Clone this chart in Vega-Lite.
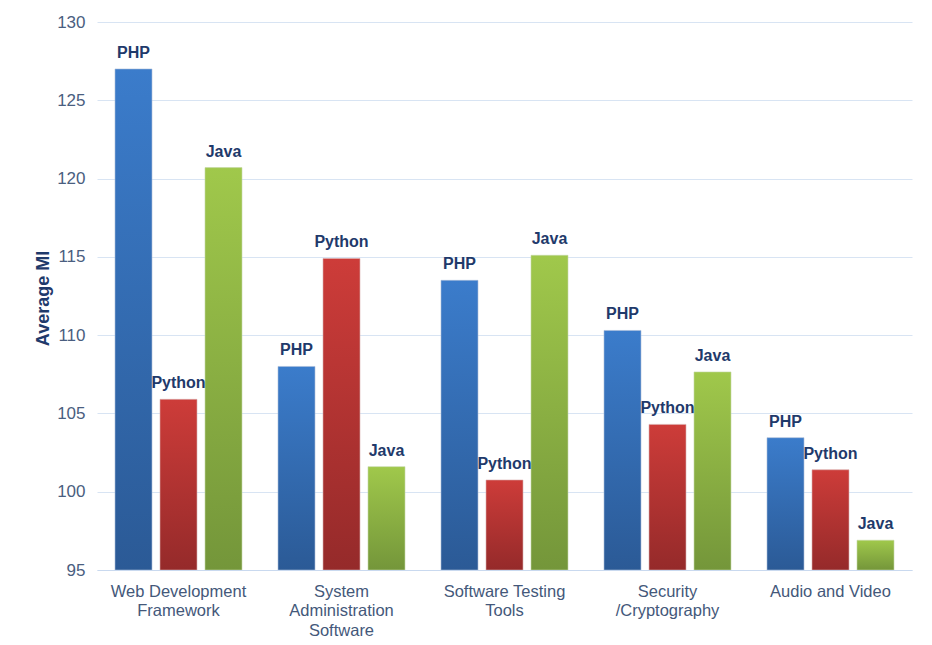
{
  "$schema": "https://vega.github.io/schema/vega-lite/v6.json",
  "width": 815,
  "height": 548,
  "autosize": "none",
  "padding": {"left": 97, "top": 22, "right": 20, "bottom": 75},
  "background": "white",
  "config": {
    "view": {"stroke": null},
    "font": "Liberation Sans"
  },
  "data": {
    "values": [
      {"category": "Web Development|Framework", "lang": "PHP", "mi": 127.0},
      {"category": "Web Development|Framework", "lang": "Python", "mi": 105.9},
      {"category": "Web Development|Framework", "lang": "Java", "mi": 120.7},
      {"category": "System|Administration|Software", "lang": "PHP", "mi": 108.0},
      {"category": "System|Administration|Software", "lang": "Python", "mi": 114.9},
      {"category": "System|Administration|Software", "lang": "Java", "mi": 101.6},
      {"category": "Software Testing|Tools", "lang": "PHP", "mi": 113.5},
      {"category": "Software Testing|Tools", "lang": "Python", "mi": 100.75},
      {"category": "Software Testing|Tools", "lang": "Java", "mi": 115.1},
      {"category": "Security|/Cryptography", "lang": "PHP", "mi": 110.3},
      {"category": "Security|/Cryptography", "lang": "Python", "mi": 104.3},
      {"category": "Security|/Cryptography", "lang": "Java", "mi": 107.65},
      {"category": "Audio and Video", "lang": "PHP", "mi": 103.45},
      {"category": "Audio and Video", "lang": "Python", "mi": 101.4},
      {"category": "Audio and Video", "lang": "Java", "mi": 96.9}
    ]
  },
  "encoding": {
    "x": {
      "field": "category",
      "type": "nominal",
      "scale": {
        "domain": [
          "Web Development|Framework",
          "System|Administration|Software",
          "Software Testing|Tools",
          "Security|/Cryptography",
          "Audio and Video"
        ],
        "paddingInner": 0,
        "paddingOuter": 0
      },
      "axis": {
        "title": null,
        "labelAngle": 0,
        "labelExpr": "split(datum.label, '|')",
        "labelFontSize": 16.5,
        "labelLineHeight": 19.5,
        "labelColor": "#44587A",
        "labelPadding": 13,
        "ticks": false,
        "domainColor": "#C9D9EF",
        "domainWidth": 1.2,
        "grid": false,
        "zindex": 1
      }
    },
    "xOffset": {
      "field": "lang",
      "type": "nominal",
      "scale": {"domain": ["PHP", "Python", "Java"], "paddingInner": 0.178, "paddingOuter": 0.4}
    },
    "y": {
      "field": "mi",
      "type": "quantitative",
      "scale": {"domain": [95, 130], "zero": false, "nice": false},
      "axis": {
        "title": "Average MI",
        "titleFontSize": 18,
        "titleFontWeight": "bold",
        "titleColor": "#1F3A6B",
        "titleX": -45,
        "titleY": 276,
        "values": [95, 100, 105, 110, 115, 120, 125, 130],
        "labelFontSize": 17,
        "labelColor": "#4A5E80",
        "labelPadding": 12,
        "ticks": false,
        "domain": false,
        "gridColor": "#D8E4F3",
        "gridWidth": 1
      }
    }
  },
  "layer": [
    {
      "transform": [{"filter": "datum.lang === 'PHP'"}],
      "mark": {
        "type": "bar",
        "fill": {
          "gradient": "linear", "x1": 0, "y1": 0, "x2": 0, "y2": 1,
          "stops": [{"offset": 0, "color": "#3B7CCB"}, {"offset": 1, "color": "#2B5A96"}]
        },
        "stroke": "#A9BCD8",
        "strokeWidth": 0.6
      },
      "encoding": {"y2": {"datum": 95}}
    },
    {
      "transform": [{"filter": "datum.lang === 'Python'"}],
      "mark": {
        "type": "bar",
        "fill": {
          "gradient": "linear", "x1": 0, "y1": 0, "x2": 0, "y2": 1,
          "stops": [{"offset": 0, "color": "#CD3C39"}, {"offset": 1, "color": "#952A2A"}]
        },
        "stroke": "#D9AFAE",
        "strokeWidth": 0.6
      },
      "encoding": {"y2": {"datum": 95}}
    },
    {
      "transform": [{"filter": "datum.lang === 'Java'"}],
      "mark": {
        "type": "bar",
        "fill": {
          "gradient": "linear", "x1": 0, "y1": 0, "x2": 0, "y2": 1,
          "stops": [{"offset": 0, "color": "#A0C84B"}, {"offset": 1, "color": "#74963A"}]
        },
        "stroke": "#C4D6A6",
        "strokeWidth": 0.6
      },
      "encoding": {"y2": {"datum": 95}}
    },
    {
      "mark": {
        "type": "text",
        "baseline": "alphabetic",
        "dy": -11,
        "fontSize": 16,
        "fontWeight": "bold",
        "color": "#1F3A6B"
      },
      "encoding": {"text": {"field": "lang"}}
    }
  ]
}
